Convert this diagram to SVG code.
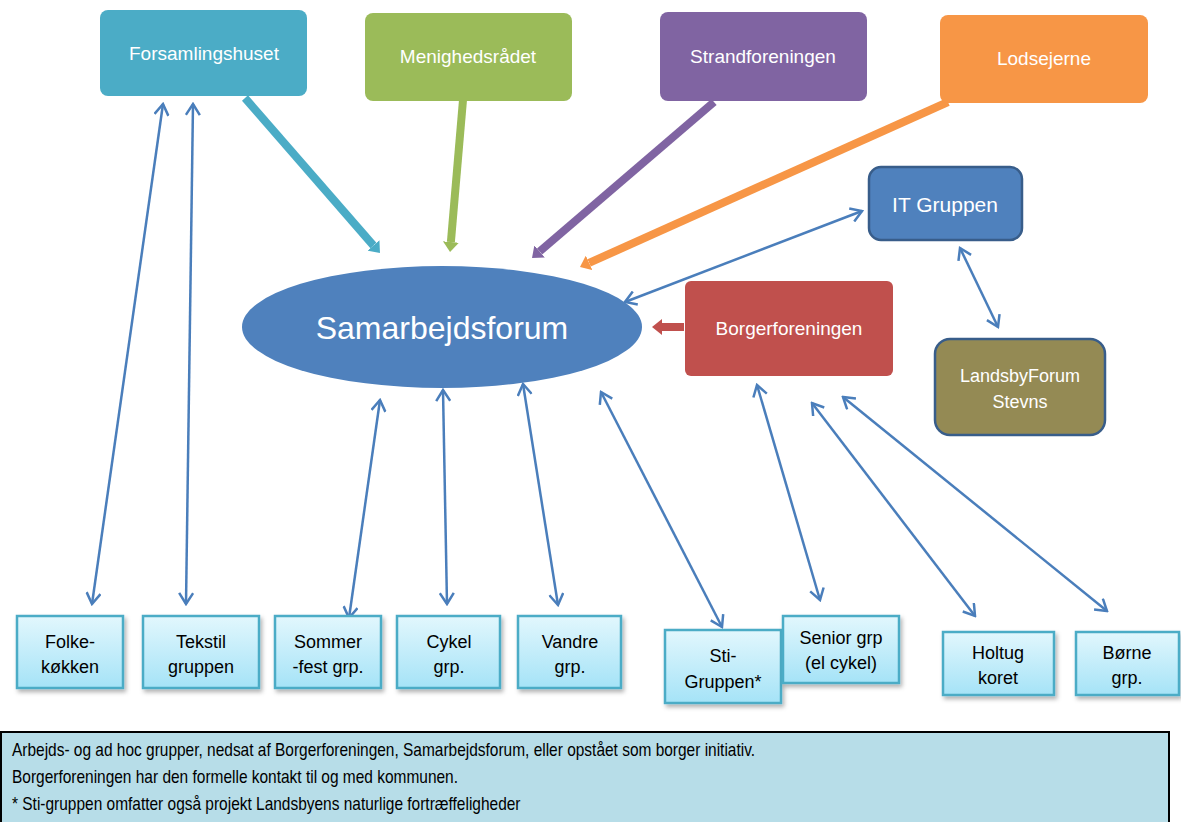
<svg xmlns="http://www.w3.org/2000/svg" width="1181" height="822" viewBox="0 0 1181 822">
<style>
  text { font-family: "Liberation Sans", Arial, sans-serif; }
  .wt { fill: #ffffff; text-anchor: middle; }
  .bt { fill: #000000; text-anchor: middle; font-size: 18px; }
  .small { fill: url(#gcyan); stroke: #4BACC6; stroke-width: 2.5; filter: url(#sh); }
  .thin { stroke: #4A7EBB; stroke-width: 2.5; fill: none; marker-start: url(#v); marker-end: url(#v); }
  .note { font-size: 18px; fill: #000; }
</style>
<defs>
  <linearGradient id="gcyan" x1="0" y1="0" x2="0" y2="1">
    <stop offset="0" stop-color="#E2F7FD"/>
    <stop offset="1" stop-color="#A5E3F7"/>
  </linearGradient>
  <filter id="sh" x="-10%" y="-10%" width="130%" height="130%">
    <feDropShadow dx="2" dy="3" stdDeviation="2" flood-color="#000" flood-opacity="0.3"/>
  </filter>
  <marker id="v" viewBox="0 0 14 16" markerWidth="14" markerHeight="16" refX="12" refY="8" orient="auto-start-reverse" markerUnits="userSpaceOnUse">
    <path d="M1,1 L12,8 L1,15" fill="none" stroke="#4A7EBB" stroke-width="2.5"/>
  </marker>
  <marker id="hc" viewBox="0 0 10 16" markerWidth="10" markerHeight="16" refX="0" refY="8" orient="auto" markerUnits="userSpaceOnUse">
    <path d="M0,0 L10,8 L0,16 z" fill="#4BACC6"/>
  </marker>
  <marker id="hg" viewBox="0 0 10 16" markerWidth="10" markerHeight="16" refX="0" refY="8" orient="auto" markerUnits="userSpaceOnUse">
    <path d="M0,0 L10,8 L0,16 z" fill="#9BBB59"/>
  </marker>
  <marker id="hp" viewBox="0 0 10 16" markerWidth="10" markerHeight="16" refX="0" refY="8" orient="auto" markerUnits="userSpaceOnUse">
    <path d="M0,0 L10,8 L0,16 z" fill="#8064A2"/>
  </marker>
  <marker id="ho" viewBox="0 0 10 16" markerWidth="10" markerHeight="16" refX="0" refY="8" orient="auto" markerUnits="userSpaceOnUse">
    <path d="M0,0 L10,8 L0,16 z" fill="#F79646"/>
  </marker>
  <marker id="hr" viewBox="0 0 10 16" markerWidth="10" markerHeight="16" refX="0" refY="8" orient="auto" markerUnits="userSpaceOnUse">
    <path d="M0,0 L10,8 L0,16 z" fill="#C0504D"/>
  </marker>
</defs>
<rect width="1181" height="822" fill="#ffffff"/>

<g id="connectors">
  <line x1="245" y1="98" x2="373.4" y2="245.5" stroke="#4BACC6" stroke-width="8" marker-end="url(#hc)"/>
  <line x1="463" y1="100" x2="450.9" y2="242" stroke="#9BBB59" stroke-width="8" marker-end="url(#hg)"/>
  <line x1="714" y1="102" x2="539.6" y2="251.5" stroke="#8064A2" stroke-width="8" marker-end="url(#hp)"/>
  <line x1="948" y1="102" x2="589.1" y2="262.9" stroke="#F79646" stroke-width="8" marker-end="url(#ho)"/>
  <line x1="684" y1="327" x2="662" y2="327" stroke="#C0504D" stroke-width="8" marker-end="url(#hr)"/>

  <line class="thin" x1="163" y1="104" x2="92" y2="604"/>
  <line class="thin" x1="193" y1="104" x2="186" y2="604"/>
  <line class="thin" x1="380" y1="400" x2="349" y2="618"/>
  <line class="thin" x1="443" y1="390" x2="447" y2="604"/>
  <line class="thin" x1="523" y1="384" x2="558" y2="605"/>
  <line class="thin" x1="601" y1="392" x2="722" y2="627"/>
  <line class="thin" x1="757" y1="385" x2="820" y2="600"/>
  <line class="thin" x1="812" y1="403" x2="975" y2="616"/>
  <line class="thin" x1="843" y1="397" x2="1107" y2="611"/>
  <line class="thin" x1="625" y1="302" x2="862" y2="211"/>
  <line class="thin" x1="960" y1="248" x2="998" y2="327"/>
</g>

<g id="forsamlingshuset">
  <rect x="100" y="10" width="207" height="86" rx="8" fill="#4BACC6"/>
  <text class="wt" x="204" y="60" font-size="19">Forsamlingshuset</text>
</g>
<g id="menighedsraadet">
  <rect x="365" y="13" width="207" height="88" rx="8" fill="#9BBB59"/>
  <text class="wt" x="468" y="63" font-size="19">Menighedsrådet</text>
</g>
<g id="strandforeningen">
  <rect x="660" y="12" width="207" height="89" rx="8" fill="#8064A2"/>
  <text class="wt" x="763" y="63" font-size="19">Strandforeningen</text>
</g>
<g id="lodsejerne">
  <rect x="940" y="15" width="208" height="88" rx="8" fill="#F79646"/>
  <text class="wt" x="1044" y="65" font-size="19">Lodsejerne</text>
</g>

<g id="samarbejdsforum">
  <ellipse cx="442" cy="327" rx="200" ry="61" fill="#4F81BD"/>
  <text class="wt" x="442" y="339" font-size="32">Samarbejdsforum</text>
</g>
<g id="itgruppen">
  <rect x="869" y="167" width="153" height="73" rx="12" fill="#4F81BD" stroke="#385D8A" stroke-width="2.5"/>
  <text class="wt" x="945" y="212" font-size="21">IT Gruppen</text>
</g>
<g id="borgerforeningen">
  <rect x="685" y="281" width="208" height="95" rx="6" fill="#C0504D"/>
  <text class="wt" x="789" y="335" font-size="19">Borgerforeningen</text>
</g>
<g id="landsbyforum">
  <rect x="935" y="339" width="170" height="96" rx="15" fill="#948A54" stroke="#385D8A" stroke-width="2.5"/>
  <text class="wt" x="1020" y="382" font-size="18">LandsbyForum</text>
  <text class="wt" x="1020" y="408" font-size="18">Stevns</text>
</g>

<g id="folkekoekken">
  <rect class="small" x="17" y="616" width="106" height="72"/>
  <text class="bt" x="70" y="648">Folke-</text>
  <text class="bt" x="70" y="673">køkken</text>
</g>
<g id="tekstil">
  <rect class="small" x="143" y="616" width="116" height="72"/>
  <text class="bt" x="201" y="648">Tekstil</text>
  <text class="bt" x="201" y="673">gruppen</text>
</g>
<g id="sommerfest">
  <rect class="small" x="275" y="616" width="106" height="72"/>
  <text class="bt" x="328" y="648">Sommer</text>
  <text class="bt" x="328" y="673">-fest grp.</text>
</g>
<g id="cykel">
  <rect class="small" x="397" y="616" width="103" height="72"/>
  <text class="bt" x="449" y="648">Cykel</text>
  <text class="bt" x="449" y="673">grp.</text>
</g>
<g id="vandre">
  <rect class="small" x="518" y="616" width="103" height="72"/>
  <text class="bt" x="570" y="648">Vandre</text>
  <text class="bt" x="570" y="673">grp.</text>
</g>
<g id="sti">
  <rect class="small" x="665" y="630" width="116" height="73"/>
  <text class="bt" x="723" y="662">Sti-</text>
  <text class="bt" x="723" y="688">Gruppen*</text>
</g>
<g id="senior">
  <rect class="small" x="783" y="616" width="116" height="67"/>
  <text class="bt" x="841" y="644">Senior grp</text>
  <text class="bt" x="841" y="669">(el cykel)</text>
</g>
<g id="holtug">
  <rect class="small" x="943" y="632" width="111" height="63"/>
  <text class="bt" x="998" y="659">Holtug</text>
  <text class="bt" x="998" y="684">koret</text>
</g>
<g id="boerne">
  <rect class="small" x="1076" y="632" width="103" height="63"/>
  <text class="bt" x="1127" y="659">Børne</text>
  <text class="bt" x="1127" y="684">grp.</text>
</g>

<g id="note">
  <rect x="1" y="732" width="1168" height="100" fill="#B7DDE8" stroke="#000" stroke-width="2"/>
  <g transform="translate(12,0) scale(0.86,1)">
    <text class="note" x="0" y="756">Arbejds- og ad hoc grupper, nedsat af Borgerforeningen,  Samarbejdsforum, eller opstået som borger initiativ.</text>
    <text class="note" x="0" y="783">Borgerforeningen har den formelle kontakt til og med kommunen.</text>
    <text class="note" x="0" y="810">* Sti-gruppen omfatter også projekt Landsbyens naturlige fortræffeligheder</text>
  </g>
</g>
</svg>
